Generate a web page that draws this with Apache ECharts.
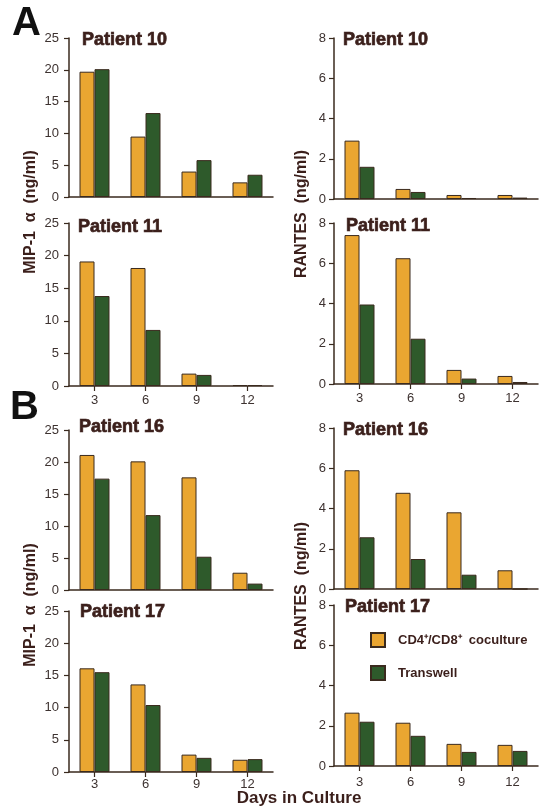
<!DOCTYPE html>
<html>
<head>
<meta charset="utf-8">
<script src="https://cdn.jsdelivr.net/npm/echarts@6/dist/echarts.min.js"></script>
<style>
  html, body { margin: 0; padding: 0; background: #fff; }
  #chart { width: 543px; height: 809px; }
</style>
</head>
<body>
<div id="chart"></div>
<script>
// 数据：培养天数与各患者的趋化因子浓度 (ng/ml)
const days = ['3', '6', '9', '12'];
const mipTicks = [0, 25, 5];
const rantesTicks = [0, 8, 2];

const mip10Co = [19.7, 9.5, 4.0, 2.3];
const mip10Tw = [20.1, 13.2, 5.8, 3.5];
const rantes10Co = [2.9, 0.5, 0.2, 0.2];
const rantes10Tw = [1.6, 0.35, 0.05, 0.07];

const mip11Co = [19.1, 18.1, 1.9, 0.15];
const mip11Tw = [13.8, 8.6, 1.7, 0.15];
const rantes11Co = [7.4, 6.25, 0.7, 0.4];
const rantes11Tw = [3.95, 2.25, 0.27, 0.1];

const mip16Co = [21.1, 20.1, 17.6, 2.7];
const mip16Tw = [17.4, 11.7, 5.2, 1.0];
const rantes16Co = [5.9, 4.78, 3.81, 0.93];
const rantes16Tw = [2.57, 1.49, 0.71, 0];

const mip17Co = [16.1, 13.6, 2.7, 1.9];
const mip17Tw = [15.5, 10.4, 2.2, 2.0];
const rantes17Co = [2.65, 2.15, 1.1, 1.05];
const rantes17Tw = [2.2, 1.5, 0.7, 0.75];

const coName = 'CD4\u207A/CD8\u207A  coculture';
const twName = 'Transwell';

const orange = '#EAA631';
const green = '#2E5A2B';
const edge = '#3a2a1e';
const ink = '#3b1f1b';

// 面板布局
const panels = [
  { title: 'Patient 10', co: mip10Co, tw: mip10Tw, ticks: mipTicks, left: 69, top: 38, h: 159, tl: [82, 31], labels: false },
  { title: 'Patient 10', co: rantes10Co, tw: rantes10Tw, ticks: rantesTicks, left: 334, top: 38, h: 161, tl: [343, 31], labels: false },
  { title: 'Patient 11', co: mip11Co, tw: mip11Tw, ticks: mipTicks, left: 69, top: 223, h: 163, tl: [78, 218], labels: true, margin: 8 },
  { title: 'Patient 11', co: rantes11Co, tw: rantes11Tw, ticks: rantesTicks, left: 334, top: 223, h: 161, tl: [346, 217], labels: true, margin: 8 },
  { title: 'Patient 16', co: mip16Co, tw: mip16Tw, ticks: mipTicks, left: 69, top: 430, h: 160, tl: [79, 418], labels: false },
  { title: 'Patient 16', co: rantes16Co, tw: rantes16Tw, ticks: rantesTicks, left: 334, top: 428, h: 161, tl: [343, 421], labels: false },
  { title: 'Patient 17', co: mip17Co, tw: mip17Tw, ticks: mipTicks, left: 69, top: 611, h: 161, tl: [80, 603], labels: true, margin: 6 },
  { title: 'Patient 17', co: rantes17Co, tw: rantes17Tw, ticks: rantesTicks, left: 334, top: 605, h: 161, tl: [345, 598], labels: true, margin: 10 }
];

const axisLine = { show: true, lineStyle: { color: edge, width: 1.5 } };
const labelFont = { fontFamily: 'Liberation Sans', fontSize: 13, color: '#3d3230' };

const grid = [], xAxis = [], yAxis = [], series = [], title = [];
panels.forEach((p, i) => {
  grid.push({ left: p.left, top: p.top, width: 204, height: p.h });
  title.push({
    text: p.title, left: p.tl[0], top: p.tl[1], padding: 0,
    textStyle: { fontFamily: 'Liberation Sans', fontSize: 18, fontWeight: 900, color: ink, textBorderColor: ink, textBorderWidth: 0.7 }
  });
  xAxis.push({
    type: 'category', gridIndex: i, data: days,
    axisLine: axisLine,
    axisTick: { show: p.labels, alignWithLabel: true, length: 5, lineStyle: { color: edge, width: 1.2 } },
    axisLabel: Object.assign({ show: p.labels, margin: p.margin || 8 }, labelFont)
  });
  yAxis.push({
    type: 'value', gridIndex: i, min: p.ticks[0], max: p.ticks[1], interval: p.ticks[2],
    splitLine: { show: false },
    axisLine: axisLine,
    axisTick: { show: true, length: 5, lineStyle: { color: edge, width: 1.2 } },
    axisLabel: Object.assign({ margin: i % 2 ? 8 : 10 }, labelFont)
  });
  const style = (c) => ({ color: c, borderColor: edge, borderWidth: 1 });
  series.push({ type: 'bar', name: coName, xAxisIndex: i, yAxisIndex: i, data: p.co, barWidth: 15, barGap: '0%', itemStyle: style(orange) });
  series.push({ type: 'bar', name: twName, xAxisIndex: i, yAxisIndex: i, data: p.tw, barWidth: 15, barGap: '0%', itemStyle: style(green) });
});

const bigText = (text, x, y) => ({
  type: 'text', x: x, y: y,
  style: { text: text, fontFamily: 'Liberation Sans', fontSize: 40, fontWeight: 900, fill: '#111' }
});
const yName = (text, x, y) => ({
  type: 'text', x: x, y: y, rotation: Math.PI / 2,
  style: { text: text, fontFamily: 'Liberation Sans', fontSize: 16, fontWeight: 'bold', fill: ink, align: 'center', verticalAlign: 'middle' }
});

const option = {
  backgroundColor: '#fff',
  animation: false,
  title: title,
  grid: grid,
  xAxis: xAxis,
  yAxis: yAxis,
  series: series,
  legend: {
    data: [coName, twName],
    orient: 'vertical', left: 370, top: 632, padding: 0,
    itemWidth: 14, itemHeight: 14, itemGap: 17, icon: 'rect',
    textStyle: { fontFamily: 'Liberation Sans', fontSize: 13, fontWeight: 'bold', color: ink, padding: [0, 0, 0, 8] }
  },
  graphic: [
    bigText('A', 12, 4),
    bigText('B', 10, 388),
    yName('MIP-1  \u03B1  (ng/ml)', 31, 212),
    yName('MIP-1  \u03B1  (ng/ml)', 31, 605),
    yName('RANTES  (ng/ml)', 302, 214),
    yName('RANTES  (ng/ml)', 302, 586),
    {
      type: 'text', x: 299, y: 798,
      style: { text: 'Days in Culture', fontFamily: 'Liberation Sans', fontSize: 17, fontWeight: 'bold', fill: ink, align: 'center', verticalAlign: 'middle' }
    }
  ]
};

const chart = echarts.init(document.getElementById('chart'));
chart.setOption(option, true);
</script>
</body>
</html>
